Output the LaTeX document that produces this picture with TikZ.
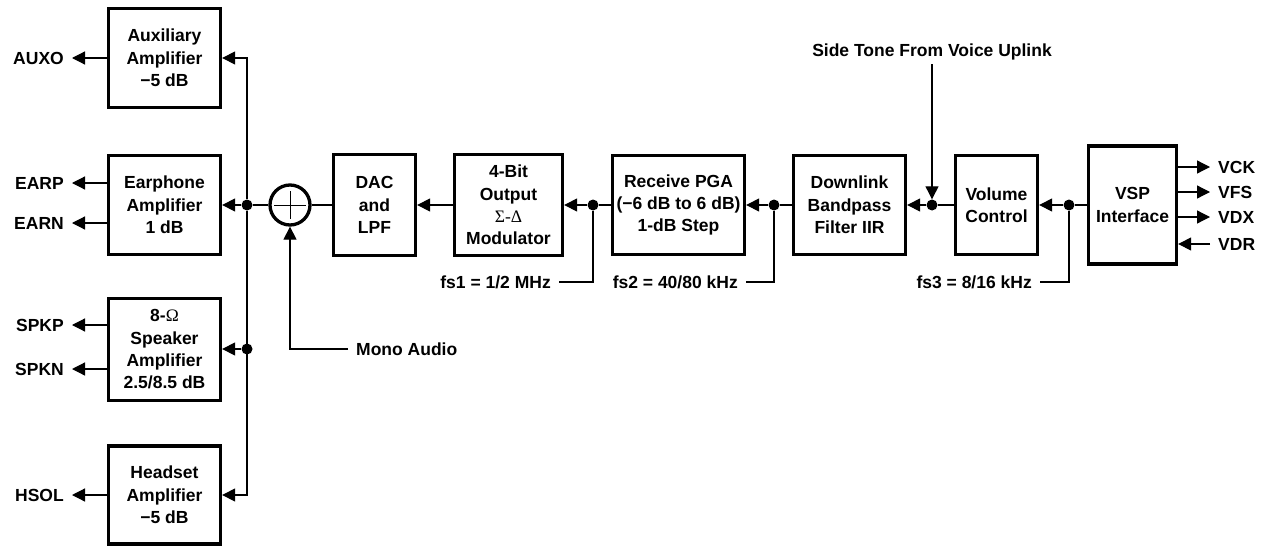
\documentclass[tikz,border=0pt]{standalone}
\usepackage{fontspec}
\setmainfont{Liberation Sans}
\newfontfamily\symf{Liberation Serif}
\usetikzlibrary{arrows.meta}
\begin{document}
\begin{tikzpicture}[x=1pt,y=-1pt,
 every node/.style={font=\fontsize{17.5}{22.3}\selectfont\bfseries},
 box/.style={draw, line width=3.3pt, align=center, inner sep=0pt},
 conn/.style={line width=1.2pt},
 arr/.style={conn, -{Triangle[length=13pt,width=13pt]}},
 dot/.style={circle, fill, inner sep=0pt, minimum size=11pt},
 lbl/.style={inner xsep=8pt, inner ysep=2pt}]
\useasboundingbox (0,0) rectangle (1268,546);

% amplifier boxes
\node[box, minimum width=112pt, minimum height=99pt] (aux) at (164.5,58) {Auxiliary\\Amplifier\\−5 dB};
\node[box, minimum width=112pt, minimum height=99pt] (ear) at (164.5,205) {Earphone\\Amplifier\\1 dB};
\node[box, minimum width=112pt, minimum height=102pt] (spk) at (164.5,349.5) {8-{\symf\mdseries Ω}\\Speaker\\Amplifier\\2.5/8.5 dB};
\node[box, minimum width=112pt, minimum height=98pt] (hs) at (164.5,495) {Headset\\Amplifier\\−5 dB};

% chain boxes
\node[box, minimum width=82pt, minimum height=101pt] (dac) at (374.5,205) {DAC\\and\\LPF};
\node[box, minimum width=108pt, minimum height=101pt] (mod) at (508.5,205) {4-Bit\\Output\\{\symf\mdseries Σ-Δ}\\Modulator};
\node[box, minimum width=132pt, minimum height=99pt] (pga) at (678.5,205) {Receive PGA\\(−6 dB to 6 dB)\\1-dB Step};
\node[box, minimum width=112pt, minimum height=99pt] (dl) at (849.5,205) {Downlink\\Bandpass\\Filter IIR};
\node[box, minimum width=82pt, minimum height=99pt] (vol) at (996.5,205) {Volume\\Control};
\node[box, minimum width=88pt, minimum height=118pt] (vsp) at (1132.5,205) {VSP\\Interface};

% summing junction
\node[circle, draw, line width=3.3pt, minimum size=40pt, inner sep=0pt] (sum) at (290,205) {};
\draw[line width=0.7pt] (sum.center) +(-16,0) -- +(16,0);
\draw[line width=0.7pt] (sum.center) +(0,-14) -- +(0,14);

% bus
\node[dot] (d1) at (247,205) {};
\node[dot] (d2) at (247,349) {};
\draw[arr] (d1) |- (aux.east);
\draw[arr] (d1) |- (hs.east);
\draw[arr] (d1) -- (ear.east |- d1);
\draw[arr] (d2) -- (spk.east |- d2);
\draw[conn] (sum.west) -- (d1);
\draw[conn] (sum.east) -- (dac.west |- sum);

% left outputs
\node[lbl, anchor=east] (auxo) at (72,58) {AUXO};
\node[lbl, anchor=east] (earp) at (72,183) {EARP};
\node[lbl, anchor=east] (earn) at (72,223) {EARN};
\node[lbl, anchor=east] (spkp) at (72,325) {SPKP};
\node[lbl, anchor=east] (spkn) at (72,369) {SPKN};
\node[lbl, anchor=east] (hsol) at (72,495) {HSOL};
\draw[arr] (aux.west |- auxo) -- (auxo.east);
\draw[arr] (ear.west |- earp) -- (earp.east);
\draw[arr] (ear.west |- earn) -- (earn.east);
\draw[arr] (spk.west |- spkp) -- (spkp.east);
\draw[arr] (spk.west |- spkn) -- (spkn.east);
\draw[arr] (hs.west |- hsol) -- (hsol.east);

% mono audio
\node[lbl, anchor=west] (mono) at (348,349) {Mono Audio};
\draw[arr] (mono.west) -| (sum.south);

% main chain
\node[dot] (m1) at (593,205) {};
\node[dot] (m2) at (774,205) {};
\node[dot] (m3) at (932,205) {};
\node[dot] (m4) at (1069,205) {};
\draw[arr] (mod.west) -- (dac.east);
\draw[conn] (pga.west) -- (m1);
\draw[arr] (m1) -- (mod.east);
\draw[conn] (dl.west) -- (m2);
\draw[arr] (m2) -- (pga.east);
\draw[conn] (vol.west) -- (m3);
\draw[arr] (m3) -- (dl.east);
\draw[conn] (vsp.west) -- (m4);
\draw[arr] (m4) -- (vol.east);

% sample rate labels
\node[lbl, anchor=east] (fs1) at (559,282) {fs1 = 1/2 MHz};
\node[lbl, anchor=east] (fs2) at (746,282) {fs2 = 40/80 kHz};
\node[lbl, anchor=east] (fs3) at (1040,282) {fs3 = 8/16 kHz};
\draw[conn] (m1) |- (fs1.east);
\draw[conn] (m2) |- (fs2.east);
\draw[conn] (m4) |- (fs3.east);

% side tone
\node[inner ysep=4pt] (side) at (932,52) {Side Tone From Voice Uplink};
\draw[arr] (side.south) -- (m3.north);

% VSP signals
\node[lbl, anchor=west] (vck) at (1210,167) {VCK};
\node[lbl, anchor=west] (vfs) at (1210,192) {VFS};
\node[lbl, anchor=west] (vdx) at (1210,217) {VDX};
\node[lbl, anchor=west] (vdr) at (1210,244) {VDR};
\draw[arr] (vsp.east |- vck) -- (vck.west);
\draw[arr] (vsp.east |- vfs) -- (vfs.west);
\draw[arr] (vsp.east |- vdx) -- (vdx.west);
\draw[arr] (vdr.west) -- (vsp.east |- vdr);
\end{tikzpicture}
\end{document}
